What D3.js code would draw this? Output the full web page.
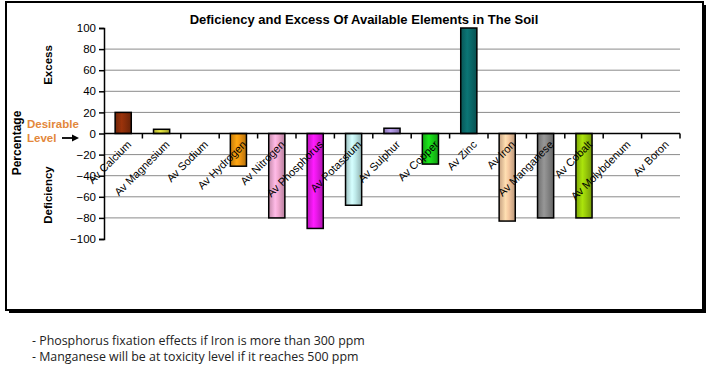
<!DOCTYPE html>
<html><head><meta charset="utf-8">
<script src="https://cdn.jsdelivr.net/npm/d3@7"></script>
<style>body{margin:0;background:#fff}svg{display:block}</style>
</head><body>
<script>
const categories = ["Av Calcium","Av Magnesium","Av Sodium","Av Hydrogen","Av Nitrogen","Av Phosphorus","Av Potassium","Av Sulphur","Av Copper","Av Zinc","Av Iron","Av Manganese","Av Cobalt","Av Molybdenum","Av Boron"];
const values = [20,4,0,-31,-80,-90,-68,5,-29,100,-83,-80,-80,0,0];
const colors = ["#8B2E0A","#D4D43A","#cccccc","#F0960F","#F0A8D0","#E818E8","#C0ECEC","#A890D8","#18D018","#0A6A6A","#F5C8A0","#888888","#9ACD0A","#cccccc","#cccccc"];
const yTicks = [100,80,60,40,20,0,-20,-40,-60,-80,-100];
const gridValues = [80,60,40,20,-20,-40,-60,-80];
const notes = ["- Phosphorus fixation effects if Iron is more than 300 ppm","- Manganese will be at toxicity level if it reaches 500 ppm"];

const W=711,H=368;
const FONT="Arial, 'Liberation Sans', sans-serif";
const svg=d3.select("body").append("svg").attr("width",W).attr("height",H);
const defs=svg.append("defs");

// frame with shadow
svg.append("rect").attr("x",9).attr("y",5).attr("width",697).attr("height",308).attr("fill","#000");
svg.append("rect").attr("x",6).attr("y",2).attr("width",697).attr("height",308).attr("fill","#fff").attr("stroke","#000").attr("stroke-width",2);

const x=d3.scaleBand().domain(categories).range([104,680]).paddingInner(0.58).paddingOuter(0.29);
const y=d3.scaleLinear().domain([-100,100]).range([239,28]);

// grid
svg.append("g").selectAll("line").data(gridValues).join("line")
 .attr("x1",104).attr("x2",680).attr("y1",d=>y(d)).attr("y2",d=>y(d))
 .attr("stroke","#8a8a8a").attr("stroke-width",1);

// gradients
colors.forEach((c,i)=>{
  const g=defs.append("linearGradient").attr("id","g"+i).attr("x1","0").attr("x2","1").attr("y1","0").attr("y2","0");
  const base=d3.color(c);
  g.append("stop").attr("offset","0").attr("stop-color",base.darker(0.6));
  g.append("stop").attr("offset","0.4").attr("stop-color",base.brighter(0.3));
  g.append("stop").attr("offset","0.6").attr("stop-color",base);
  g.append("stop").attr("offset","1").attr("stop-color",base.darker(0.8));
});

// bars
const barData=values.map((v,i)=>({c:categories[i],v,i})).filter(d=>d.v!==0);
svg.append("g").selectAll("rect").data(barData).join("rect")
 .attr("x",d=>x(d.c)).attr("width",x.bandwidth())
 .attr("y",d=>y(Math.max(0,d.v))).attr("height",d=>Math.abs(y(d.v)-y(0)))
 .attr("fill",d=>"url(#g"+d.i+")").attr("stroke","#000").attr("stroke-width",1.5);

// y axis
const yAxis=d3.axisLeft(y).tickValues(yTicks).tickSize(5).tickPadding(3);
const ya=svg.append("g").attr("transform","translate(104,0)").call(yAxis);
ya.attr("font-family",FONT).attr("font-size",11.5);
ya.select(".domain").attr("stroke","#000").attr("stroke-width",1.5);
ya.selectAll(".tick line").attr("stroke","#000").attr("stroke-width",1.5);
ya.selectAll(".tick text").attr("fill","#000");

// x axis line at zero with ticks at boundaries
const xa=svg.append("g");
xa.append("line").attr("x1",104).attr("x2",680).attr("y1",y(0)).attr("y2",y(0)).attr("stroke","#000").attr("stroke-width",1.5);
const step=x.step();
xa.selectAll("line.t").data(d3.range(1,categories.length+1)).join("line").attr("class","t")
 .attr("x1",i=>104+i*step).attr("x2",i=>104+i*step).attr("y1",y(0)).attr("y2",y(0)+5)
 .attr("stroke","#000").attr("stroke-width",1.5);

// category labels
svg.append("g").selectAll("text").data(categories).join("text")
 .attr("transform",d=>`translate(${x(d)+x.bandwidth()/2+6},${y(0)+9}) rotate(-45)`)
 .attr("text-anchor","end").attr("dy","0.35em")
 .attr("font-family",FONT).attr("font-size",11).attr("fill","#000")
 .text(d=>d);

// title
svg.append("text").attr("x",364).attr("y",24).attr("text-anchor","middle")
 .attr("font-family",FONT).attr("font-size",13).attr("font-weight","bold").text("Deficiency and Excess Of Available Elements in The Soil");

// side labels
const side=[{t:"Excess",x:52,y:65,s:11.5},{t:"Deficiency",x:52,y:195,s:11.5},{t:"Percentage",x:21,y:143,s:12}];
svg.append("g").selectAll("text").data(side).join("text")
 .attr("transform",d=>`translate(${d.x},${d.y}) rotate(-90)`).attr("text-anchor","middle")
 .attr("font-family",FONT).attr("font-weight","bold").attr("font-size",d=>d.s).text(d=>d.t);

svg.append("text").attr("x",27).attr("y",128).attr("font-family",FONT).attr("font-weight","bold").attr("font-size",11.5).attr("fill","#E3873A").text("Desirable");
svg.append("text").attr("x",27).attr("y",142).attr("font-family",FONT).attr("font-weight","bold").attr("font-size",11.5).attr("fill","#E3873A").text("Level");
// arrow
svg.append("line").attr("x1",62).attr("x2",74).attr("y1",138).attr("y2",138).attr("stroke","#000").attr("stroke-width",1.8);
svg.append("path").attr("d","M72,134.5 L79,138 L72,141.5 Z").attr("fill","#000");

// notes
svg.append("g").selectAll("text").data(notes).join("text")
 .attr("x",32).attr("y",(d,i)=>345+i*16)
 .attr("font-family","'Open Sans', 'Liberation Sans', sans-serif").attr("font-size",12.4).attr("fill","#222").text(d=>d);
</script>
</body></html>
